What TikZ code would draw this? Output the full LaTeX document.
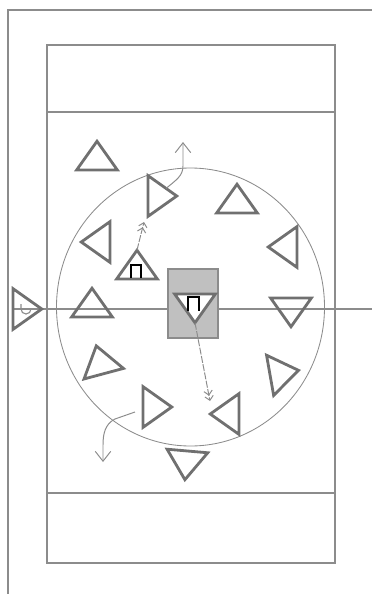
\documentclass[tikz,border=0pt]{standalone}
\usetikzlibrary{shapes.geometric,arrows.meta}
\definecolor{courtline}{HTML}{8C8C8C}
\definecolor{playergray}{HTML}{707070}
\definecolor{postgray}{HTML}{C0C0C0}

\begin{document}
\begin{tikzpicture}[x=0.025cm, y=-0.025cm,
    court/.style={draw=courtline, line width=1.1pt},
    player/.style={isosceles triangle, isosceles triangle stretches,
      draw=playergray, line width=2pt, minimum width=1.02cm,
      minimum height=0.72cm, inner sep=0pt, outer sep=0pt},
    pass/.style={draw=courtline, line width=0.7pt, dash pattern=on 5pt off 1pt,
      -{Straight Barb[length=3pt,width=6pt] Straight Barb[length=3pt,width=6pt]}},
    cut/.style={draw=courtline, line width=0.7pt,
      -{Straight Barb[length=7pt,width=11pt]}},
    screenmark/.style={draw=black, line width=1pt}]
  \useasboundingbox (0,0) rectangle (372,594);
  % court lines
  \draw[court] (8,594) -- (8,10) -- (372,10);
  \draw[court] (47,45) rectangle (335,563);
  \draw[court] (47,112) -- (335,112);
  \draw[court] (47,493) -- (335,493);
  \draw[court] (12,309) -- (372,309);
  \draw[draw=courtline, line width=0.6pt] (190.5,307) ellipse [x radius=134, y radius=139];
  \node[fill=postgray, draw=courtline, line width=0.8pt, minimum width=1.25cm,
    minimum height=1.725cm, inner sep=0pt] (post) at (193,303.5) {};

  % players
  \node[player, rotate=90] (p1) at (97,159.5) {};
  \node[player] (p2) at (158.5,196) {};
  \node[player, rotate=90] (p3) at (237,202.5) {};
  \node[player, rotate=180] (p4) at (99.5,242) {};
  \node[player, rotate=180] (p5) at (286.5,247) {};
  \node[player, rotate=90] (p6) at (137,268.5) {};
  \node[player, rotate=90] (p7) at (92,306.5) {};
  \node[player, rotate=-90, fill=white] (p8) at (195,304.5) {};
  \node[player, rotate=-90] (p9) at (291,308.5) {};
  \node[player] (p10) at (23.5,309) {};
  \node[player, rotate=105] (p11) at (101,363.5) {};
  \node[player, rotate=10] (p12) at (280.5,373.5) {};
  \node[player] (p13) at (153.5,407) {};
  \node[player, rotate=180] (p14) at (228.5,414) {};
  \node[player, rotate=-95] (p15) at (186.5,461.5) {};

  % marks
  \draw[screenmark] (131,278) -- (131,265) -- (141,265) -- (141,278);
  \draw[screenmark] (188,311) -- (188,297) -- (199,297) -- (199,311);
  \draw[draw=courtline, line width=0.8pt] (21,304) -- (21,309)
    arc[start angle=180, end angle=0, radius=5];

  % passes
  \coordinate (pass1end) at (144,222);
  \draw[pass] (p6.apex) -- (pass1end);
  \coordinate (pass2end) at (210,401);
  \draw[pass] (p8.apex) -- (pass2end);

  % cuts
  \coordinate (cut1end) at (183,142);
  \draw[cut] (p2.north east) .. controls (176,180) and (183,176) .. (183,166)
    -- (cut1end);
  \coordinate (cut2end) at (103,462);
  \draw[cut] ([shift={(-8,5)}]p13.west) -- (115,419)
    .. controls (105,424) and (103,434) .. (103,445) -- (cut2end);
\end{tikzpicture}
\end{document}
